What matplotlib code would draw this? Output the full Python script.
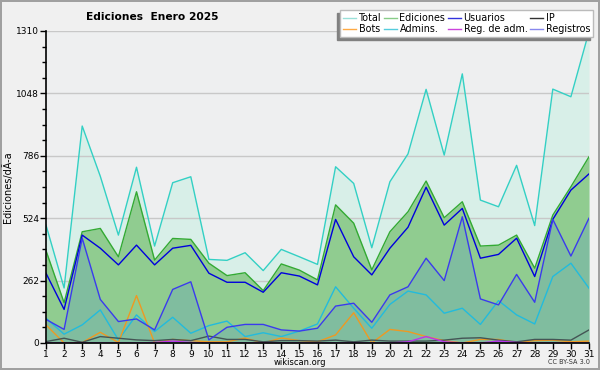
import numpy as np
import matplotlib
matplotlib.use('Agg')
import matplotlib.pyplot as plt
from matplotlib.ticker import MultipleLocator

days = list(range(1, 32))

total = [495, 231, 911, 700, 453, 738, 407, 673, 698, 351, 347, 379, 304, 393, 362, 330,
         740, 670, 400, 677, 794, 1065, 789, 1130, 600, 572, 746, 493, 1066, 1034, 1308]
ediciones = [388, 169, 467, 481, 362, 635, 348, 439, 435, 335, 283, 295, 220, 332, 306, 265,
             580, 503, 307, 467, 551, 680, 526, 593, 407, 411, 453, 314, 537, 656, 782]
usuarios = [293, 141, 453, 398, 328, 411, 328, 398, 410, 293, 255, 255, 213, 295, 281, 244,
            519, 362, 286, 398, 486, 654, 495, 565, 356, 372, 440, 279, 519, 642, 710]
registros = [99, 57, 440, 183, 90, 101, 55, 225, 257, 13, 66, 78, 78, 55, 50, 62,
             155, 167, 87, 202, 236, 356, 262, 530, 185, 160, 288, 171, 519, 365, 524]
admins = [104, 37, 76, 139, 13, 118, 48, 108, 41, 73, 92, 27, 43, 27, 50, 80,
          236, 146, 62, 162, 218, 202, 125, 146, 78, 178, 118, 80, 279, 335, 230]
bots = [76, 0, 2, 45, 2, 199, 0, 15, 10, 5, 5, 21, 0, 21, 10, 5,
        34, 127, 0, 57, 48, 27, 10, 0, 15, 15, 2, 10, 12, 5, 8]
ip = [6, 20, 3, 27, 20, 13, 10, 15, 10, 29, 15, 15, 5, 10, 10, 8,
      12, 5, 12, 8, 8, 8, 12, 20, 22, 12, 5, 15, 15, 12, 55]
reg_adm = [0, 0, 0, 0, 0, 0, 2, 8, 2, 0, 0, 0, 0, 0, 0, 0,
           0, 0, 0, 0, 5, 27, 5, 0, 0, 8, 2, 0, 0, 0, 0]

yticks = [0, 262, 524, 786, 1048, 1310]

fig = plt.figure(figsize=(6, 3.7), dpi=100, facecolor='#f0f0f0',
                 edgecolor='#a0a0a0', linewidth=1.5)
ax = fig.add_axes([46/600, 1-343/370, 543/600, 312/370])
ax.set_facecolor('#eeeff0')

# fills
ax.fill_between(days, 0, total, color='#d8efe8', lw=0, zorder=1)
ax.fill_between(days, 0, ediciones, color='#90cc90', lw=0, zorder=2)
ax.fill_between(days, 0, registros, color='#6aa8b8', alpha=0.4, lw=0, zorder=3)

lw = 1.0
ax.plot(days, total, color='#33d0c4', lw=lw, zorder=5)
ax.plot(days, ediciones, color='#33aa33', lw=lw, zorder=5)
ax.plot(days, usuarios, color='#0000dd', lw=lw, zorder=6)
ax.plot(days, registros, color='#3a3aee', lw=lw, zorder=6)
ax.plot(days, admins, color='#22bbdd', lw=lw, zorder=5)
ax.plot(days, bots, color='#ee9922', lw=lw, zorder=5)
ax.plot(days, ip, color='#445555', lw=lw, zorder=5)
ax.plot(days, reg_adm, color='#bb33ee', lw=lw, zorder=5)

ax.set_xlim(1, 31)
ax.set_ylim(0, 1310)
ax.set_xticks(days)
ax.set_yticks(yticks)
ax.yaxis.set_minor_locator(MultipleLocator(65.5))
ax.tick_params(axis='both', labelsize=6.5, length=4, width=1, colors='black', pad=1)
ax.tick_params(axis='y', which='minor', length=3, width=1)
ax.grid(axis='y', color='#c8c8c8', lw=1, zorder=0)
for s in ['top', 'right']:
    ax.spines[s].set_visible(False)
for s in ['left', 'bottom']:
    ax.spines[s].set_linewidth(1.2)
    ax.spines[s].set_zorder(10)

ax.set_ylabel('Ediciones/dÃ-a', fontsize=7, labelpad=2)

# legend
names = ['Total', 'Bots', 'Ediciones', 'Admins.', 'Usuarios', 'Reg. de adm.', 'IP', 'Registros']
cols = ['#99e0d8', '#ffaa44', '#88cc88', '#55ccdd', '#3333dd', '#cc44dd', '#333333', '#8888ee']
handles = [plt.Line2D([], [], color=c, lw=1) for c in cols]
leg = ax.legend(handles, names, ncol=4, loc='upper right', bbox_to_anchor=(1.0074, 1.067),
                fontsize=6.9, frameon=True, fancybox=False, framealpha=1,
                edgecolor='#bbbbbb', handlelength=1.3, handletextpad=0.3,
                columnspacing=0.3, labelspacing=0.15, borderpad=0.3, borderaxespad=0,
                shadow={'ox': -2.2, 'oy': -2.2, 'color': '#808080', 'alpha': 1})
leg.set_zorder(20)

fig.text(152/600, 1-17/370, 'Ediciones  Enero 2025', fontsize=7.7, fontweight='bold',
         ha='center', va='center')
fig.text(0.5, 0.02, 'wikiscan.org', fontsize=6, ha='center', va='center')
fig.text(0.983, 0.022, 'CC BY-SA 3.0', fontsize=4.7, ha='right', va='center', color='#333333')

fig.savefig('out.png', dpi=100, facecolor=fig.get_facecolor(), edgecolor=fig.get_edgecolor())
